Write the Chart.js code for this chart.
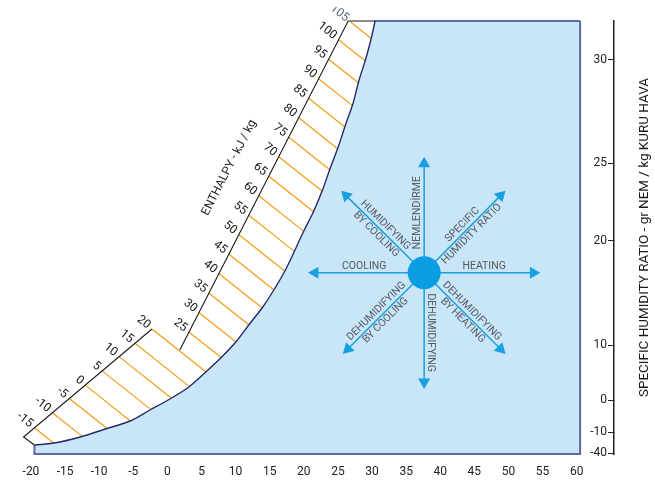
<!DOCTYPE html>
<html>
<head>
<meta charset="utf-8">
<script src="https://cdn.jsdelivr.net/npm/chart.js@4.4.1/dist/chart.umd.min.js"></script>
<style>
  html, body { margin: 0; padding: 0; background: #fff; }
  #chart { display: block; }
</style>
</head>
<body>
<canvas id="chart" width="655" height="480"></canvas>
<script>
// bottom axis: dry bulb temperature
const tempTicks = [-20, -15, -10, -5, 0, 5, 10, 15, 20, 25, 30, 35, 40, 45, 50, 55, 60];
const tempMin = -22.12, tempMax = 65.47;

// right axis: the printed scale is not linear, so ticks sit at fixed spots of an internal scale
const humTickPos = [0, 21, 53, 108, 212, 290, 393];
const humTickText = ['-40', '-10', '0', '10', '20', '25', '30'];
const humMin = -1, humMax = 432;

// saturation curve (left edge of the blue area)
const satTemp = [-19.49, -16.57, -12.77, -9.12, -5.47, -2.55, 0.36, 3.14, 5.47, 7.96, 10.15, 12.04, 14.09,
  15.69, 17.30, 20.07, 21.53, 22.85, 23.87, 25.04, 26.20, 27.23, 28.10, 29.12, 30.00, 30.44];
const satHum = [8, 10, 16, 24, 32, 43, 54, 66, 80, 96, 112, 129, 147, 164, 183, 223, 243, 265, 285, 306,
  330, 350, 373, 395, 418, 432];
const regionRight = 60.5;

// enthalpy scale lines (black)
const lowScaleX = [-19.49, -21.09, -2.26];
const lowScaleY = [8, 16, 124];
const highScaleX = [1.82, 26.50, 30.44];
const highScaleY = [103, 432, 432];

// enthalpy hatch lines, kJ/kg
const enthLow = [-15, -10, -5, 0, 5, 10, 15, 20];
const lowFromX = [-19.49, -16.86, -14.38, -12.04, -9.56, -7.08, -4.74, -2.26];
const lowFromY = [25.2, 40.3, 54.5, 67.9, 82.1, 96.4, 109.7, 124];
const lowToX = [-16.64, -12.48, -8.83, -5.43, -2.41, 0.55, 3.24, 5.62];
const lowToY = [9.8, 16.6, 24.5, 32, 43.4, 55, 66.4, 81.3];

const enthHigh = [25, 30, 35, 40, 45, 50, 55, 60, 65, 70, 75, 80, 85, 90, 95, 100, 105];
const highFromX = [3.14, 4.60, 6.06, 7.52, 8.98, 10.44, 11.90, 13.36, 14.82, 16.28, 17.74, 19.20, 20.66, 22.12, 23.58, 25.04, 26.86];
const highFromY = [121, 140.5, 160, 179.5, 199, 218.5, 238, 257.5, 277, 296.5, 316, 335.5, 355, 374.5, 394, 413.5, 431];
const highToX = [7.88, 10.07, 11.97, 13.87, 15.62, 17.20, 18.61, 20.0, 21.39, 22.66, 23.80, 24.96, 26.01, 27.08, 27.99, 28.98, 29.93];
const highToY = [95.5, 111, 128, 145.2, 163, 182, 201.6, 221.6, 241.5, 262, 283.2, 304.3, 326, 347.6, 370.2, 392.2, 414.3];

// process arrows from the state point
const stateX = 37.64, stateY = 180.3;
const arrowX = [21.64, 53.65, 37.64, 37.64, 26.2, 48.84, 26.45, 48.84];
const arrowY = [180.3, 180.3, 289.3, 71, 257.4, 257.4, 104, 104];
const arrowText = [
  ['COOLING'], ['HEATING'], ['NEMLENDİRME'], ['DEHUMIDIFYING'],
  ['HUMIDIFYING', 'BY COOLING'], ['SPECIFIC', 'HUMIDITY RATIO'],
  ['DEHUMIDIFYING', 'BY COOLING'], ['DEHUMIDIFYING', 'BY HEATING']
];

const FONT = 'Roboto';
const BLUE_FILL = '#c8e6f8';
const FRAME = '#5a69a3';
const pts = (xs, ys) => xs.map((v, i) => ({ x: v, y: ys[i] }));

const line = (data, color, width, order, extra) => Object.assign({
  data: data, borderColor: color, borderWidth: width, pointRadius: 0,
  fill: false, tension: 0, order: order
}, extra || {});

const datasets = [];

// blue area = under the saturation curve + the block right of its top end
datasets.push(line(pts(satTemp, satHum), '#262a6b', 1.4, 10, {
  fill: 'start', backgroundColor: BLUE_FILL, cubicInterpolationMode: 'monotone'
}));
datasets.push(line([{ x: satTemp[satTemp.length - 1] - 0.1, y: humMax }, { x: regionRight, y: humMax }],
  FRAME, 2, 11, { fill: 'start', backgroundColor: BLUE_FILL, clip: false }));
datasets.push(line([{ x: regionRight, y: humMax }, { x: regionRight, y: humMin },
  { x: satTemp[0], y: humMin }, { x: satTemp[0], y: satHum[0] }], FRAME, 2, 9, { clip: false }));

enthLow.forEach((v, i) => {
  datasets.push(line([{ x: lowFromX[i], y: lowFromY[i] }, { x: lowToX[i], y: lowToY[i] }], '#f39c12', 1.2, 12));
});
enthHigh.forEach((v, i) => {
  datasets.push(line([{ x: highFromX[i], y: highFromY[i] }, { x: highToX[i], y: highToY[i] }], '#f39c12', 1.2, 12));
});

datasets.push(line(pts(lowScaleX, lowScaleY), '#1a1a1a', 1.1, 8));
datasets.push(line(pts(highScaleX, highScaleY), '#1a1a1a', 1.1, 8, { clip: false }));

const arrowBlue = '#1a9fe0';
arrowX.forEach((v, i) => {
  datasets.push(line([{ x: stateX, y: stateY }, { x: arrowX[i], y: arrowY[i] }], arrowBlue, 1.5, 4, {
    pointRadius: c => c.dataIndex === 1 ? 7 : 0,
    pointStyle: 'triangle',
    pointBackgroundColor: arrowBlue,
    pointBorderWidth: 0,
    pointRotation: c => {
      const d = c.dataset.data, s = c.chart.scales;
      const dx = s.x.getPixelForValue(d[1].x) - s.x.getPixelForValue(d[0].x);
      const dy = s.y.getPixelForValue(d[1].y) - s.y.getPixelForValue(d[0].y);
      return Math.atan2(dx, -dy) * 180 / Math.PI;
    }
  }));
});

datasets.push({
  data: [{ x: stateX, y: stateY }], showLine: false, order: 1,
  pointRadius: 16.5, pointStyle: 'circle', pointBackgroundColor: '#0a9de2', pointBorderWidth: 0
});

// texts that are not axis ticks
const annotate = {
  id: 'annotate',
  afterDatasetsDraw(chart) {
    const { ctx, chartArea: area, scales: { x, y } } = chart;
    const px = v => x.getPixelForValue(v), py = v => y.getPixelForValue(v);
    ctx.save();
    ctx.textBaseline = 'middle';

    // enthalpy numbers, written along each hatch line
    const numbers = (vals, fx, fy, tx, ty) => {
      vals.forEach((v, i) => {
        const x0 = px(fx[i]), y0 = py(fy[i]), x1 = px(tx[i]), y1 = py(ty[i]);
        const ang = Math.atan2(y1 - y0, x1 - x0);
        ctx.save();
        if (v === 105) {
          ctx.beginPath();
          ctx.rect(0, 7, chart.width, chart.height);
          ctx.clip();
          ctx.fillStyle = '#5d6b7b';
        } else {
          ctx.fillStyle = '#1a1a1a';
        }
        ctx.translate(x0 - Math.cos(ang) * 4, y0 - Math.sin(ang) * 4);
        ctx.rotate(ang);
        ctx.font = '12px ' + FONT;
        ctx.textAlign = 'right';
        ctx.fillText(String(v), 0, 0);
        ctx.restore();
      });
    };
    numbers(enthLow, lowFromX, lowFromY, lowToX, lowToY);
    numbers(enthHigh, highFromX, highFromY, highToX, highToY);

    // enthalpy title, parallel to the upper scale line
    {
      const x0 = px(highScaleX[0]), y0 = py(highScaleY[0]);
      const x1 = px(highScaleX[1]), y1 = py(highScaleY[1]);
      const len = Math.hypot(x1 - x0, y1 - y0);
      const ux = (x1 - x0) / len, uy = (y1 - y0) / len;
      ctx.save();
      ctx.translate((x0 + x1) / 2 + uy * 39, (y0 + y1) / 2 - ux * 39);
      ctx.rotate(Math.atan2(uy, ux));
      ctx.fillStyle = '#1a1a1a';
      ctx.font = '12px ' + FONT;
      ctx.textAlign = 'center';
      ctx.fillText('ENTHALPY - kJ / kg', 0, 0);
      ctx.restore();
    }

    // process names next to the arrows
    const cx = px(stateX), cy = py(stateY);
    arrowText.forEach((lines, i) => {
      const dx = px(arrowX[i]) - cx, dy = py(arrowY[i]) - cy;
      const len = Math.hypot(dx, dy);
      const along = (dx !== 0 && dy !== 0) ? 61 : 60;
      let a = Math.atan2(dy, dx) * 180 / Math.PI;
      if (a > 90) a -= 180; else if (a < -90) a += 180;
      ctx.save();
      ctx.translate(cx + dx / len * along, cy + dy / len * along);
      ctx.rotate(a * Math.PI / 180);
      ctx.fillStyle = '#555a60';
      ctx.font = '10.5px ' + FONT;
      ctx.textAlign = 'center';
      lines.forEach((t, k) => ctx.fillText(t, 0, k === 0 ? -6.5 : 6.5));
      ctx.restore();
    });

    // right axis title, reading upwards
    {
      const title = 'SPECIFIC HUMIDITY RATIO - gr NEM / kg KURU HAVA';
      ctx.save();
      ctx.translate(area.right + 31, (area.top + area.bottom) / 2);
      ctx.rotate(-Math.PI / 2);
      ctx.font = '12px ' + FONT;
      const w = ctx.measureText(title).width;
      ctx.scale(319 / w, 1);
      ctx.fillStyle = '#1a1a1a';
      ctx.textAlign = 'center';
      ctx.fillText(title, 0, 0);
      ctx.restore();
    }
    ctx.restore();
  }
};

const chart = new Chart(document.getElementById('chart').getContext('2d'), {
  type: 'line',
  data: { datasets: datasets },
  options: {
    responsive: false,
    animation: false,
    events: [],
    layout: { padding: { left: 14, right: 41, top: 21, bottom: 0 } },
    plugins: { legend: { display: false }, tooltip: { enabled: false } },
    scales: {
      x: {
        type: 'linear', min: tempMin, max: tempMax,
        afterBuildTicks: s => { s.ticks = tempTicks.map(v => ({ value: v })); },
        afterFit: s => { s.height = 26; },
        ticks: { autoSkip: false, maxRotation: 0, padding: 11, color: '#222', font: { family: FONT, size: 12 } },
        grid: { display: false, drawTicks: false },
        border: { display: false }
      },
      y: {
        type: 'linear', position: 'right', min: humMin, max: humMax,
        afterBuildTicks: s => { s.ticks = humTickPos.map(v => ({ value: v })); },
        afterFit: s => { s.width = 0; s.paddingTop = 0; s.paddingBottom = 0; },
        ticks: {
          mirror: true, padding: -7, color: '#222', font: { family: FONT, size: 12 },
          callback: (v, i) => humTickText[i]
        },
        grid: { drawOnChartArea: false, tickLength: -6, color: '#222', lineWidth: 1 },
        border: { color: '#222', width: 1.5 }
      }
    }
  },
  plugins: [annotate]
});
</script>
</body>
</html>
